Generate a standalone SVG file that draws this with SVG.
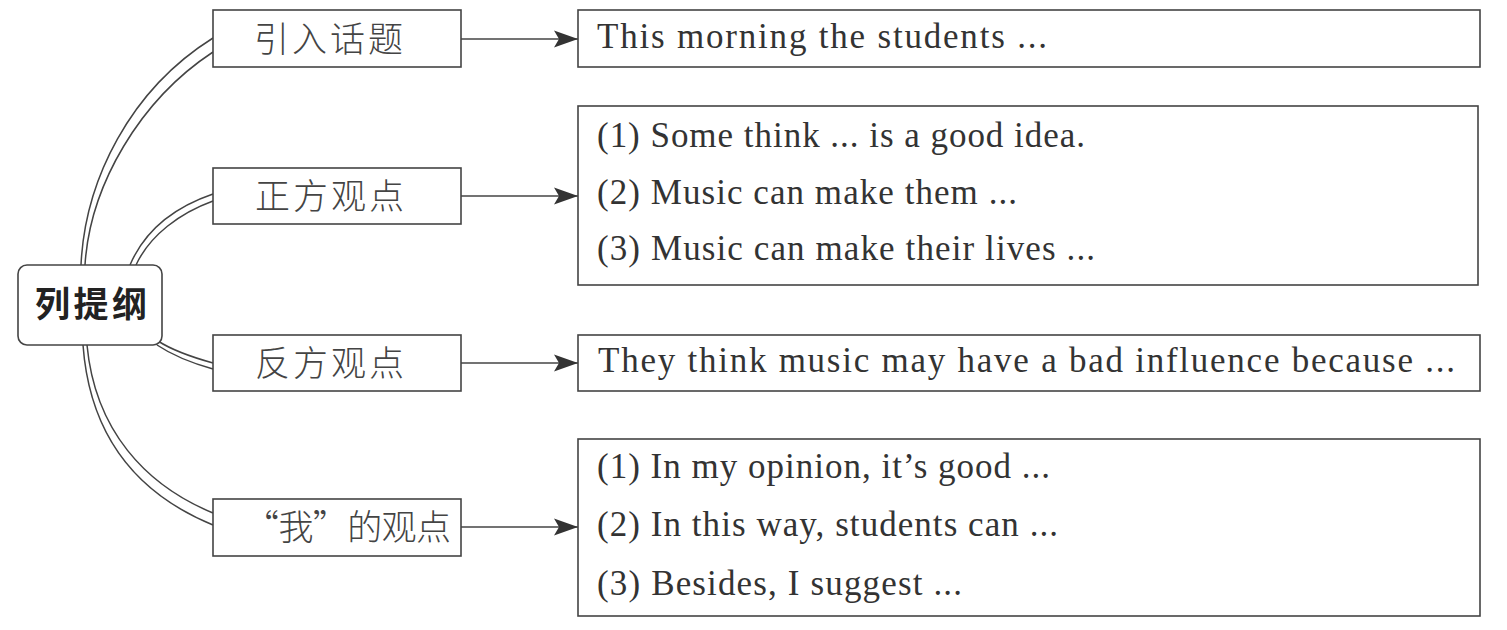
<svg xmlns="http://www.w3.org/2000/svg" width="1507" height="630" viewBox="0 0 1507 630">
<style>
.box{fill:#fff;stroke:#444;stroke-width:1.6}
.conn{fill:none;stroke:#444;stroke-width:1.5}
.arr{fill:none;stroke:#444;stroke-width:1.6}
.lab{font-family:"Noto Sans CJK SC","Noto Sans",sans-serif;font-weight:300;font-size:35px;fill:#444}
.main{font-family:"Noto Sans CJK SC","Noto Sans",sans-serif;font-weight:700;font-size:35px;fill:#222}
.en{font-family:"Liberation Serif","Times New Roman",serif;font-size:35px;fill:#333}
</style>
<defs>
<marker id="ah" markerWidth="24" markerHeight="18" refX="24" refY="9" orient="auto" markerUnits="userSpaceOnUse">
<path d="M0,0.5 L24,9 L0,17.5 L5,9 Z" fill="#333"/>
</marker>
</defs>
<rect width="1507" height="630" fill="#fff"/>
<g id="connectors">
<path class="conn" d="M81,265 C85,180 130,90 213,38"/>
<path class="conn" d="M85,265 C90,185 140,100 213,52"/>
<path class="conn" d="M130,265 C145,230 175,207 213,194"/>
<path class="conn" d="M136,265 C150,235 180,213 213,201"/>
<path class="conn" d="M158,341 C175,352 195,358 213,363"/>
<path class="conn" d="M157,345 C175,357 195,364 213,369"/>
<path class="conn" d="M83,345 C90,440 140,495 213,525"/>
<path class="conn" d="M87,345 C95,430 145,485 213,513"/>
<line class="arr" x1="461" y1="39" x2="578" y2="39" marker-end="url(#ah)"/>
<line class="arr" x1="461" y1="196" x2="578" y2="196" marker-end="url(#ah)"/>
<line class="arr" x1="461" y1="363" x2="578" y2="363" marker-end="url(#ah)"/>
<line class="arr" x1="461" y1="527" x2="578" y2="527" marker-end="url(#ah)"/>
</g>
<g id="root">
<rect class="box" x="18" y="265" width="144" height="80" rx="9"/>
<text class="main" x="35" y="317" textLength="112" lengthAdjust="spacing">列提纲</text>
</g>
<g id="label1">
<rect class="box" x="213" y="10" width="248" height="57"/>
<text class="lab" x="254" y="52" textLength="149" lengthAdjust="spacing">引入话题</text>
</g>
<g id="label2">
<rect class="box" x="213" y="168" width="248" height="56"/>
<text class="lab" x="255" y="209" textLength="149" lengthAdjust="spacing">正方观点</text>
</g>
<g id="label3">
<rect class="box" x="213" y="335" width="248" height="56"/>
<text class="lab" x="255" y="376" textLength="149" lengthAdjust="spacing">反方观点</text>
</g>
<g id="label4">
<rect class="box" x="213" y="499" width="248" height="57"/>
<text class="lab" x="244" y="540" textLength="207" lengthAdjust="spacing">“我”的观点</text>
</g>
<g id="detail1">
<rect class="box" x="578" y="10" width="902" height="57"/>
<text class="en" x="597" y="48" textLength="450" lengthAdjust="spacing">This morning the students ...</text>
</g>
<g id="detail2">
<rect class="box" x="578" y="106" width="900" height="179"/>
<text class="en" x="597" y="147" textLength="488" lengthAdjust="spacing">(1) Some think ... is a good idea.</text>
<text class="en" x="597" y="204" textLength="420" lengthAdjust="spacing">(2) Music can make them ...</text>
<text class="en" x="597" y="260" textLength="498" lengthAdjust="spacing">(3) Music can make their lives ...</text>
</g>
<g id="detail3">
<rect class="box" x="578" y="335" width="902" height="56"/>
<text class="en" x="598" y="372" textLength="857" lengthAdjust="spacing">They think music may have a bad influence because ...</text>
</g>
<g id="detail4">
<rect class="box" x="578" y="439" width="902" height="177"/>
<text class="en" x="597" y="478" textLength="453" lengthAdjust="spacing">(1) In my opinion, it’s good ...</text>
<text class="en" x="597" y="536" textLength="461" lengthAdjust="spacing">(2) In this way, students can ...</text>
<text class="en" x="597" y="595" textLength="365" lengthAdjust="spacing">(3) Besides, I suggest ...</text>
</g>
</svg>
